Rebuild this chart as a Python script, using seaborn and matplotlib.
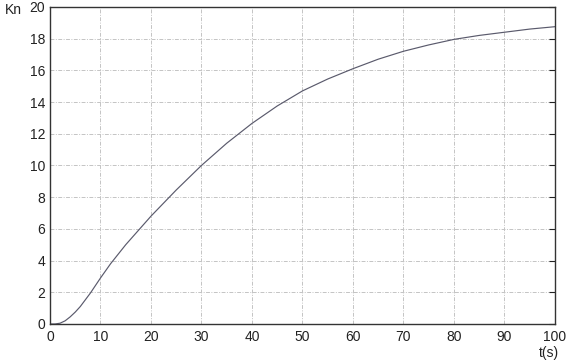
import matplotlib
matplotlib.use("Agg")
import matplotlib.pyplot as plt
import seaborn as sns
import pandas as pd

# values
t = [0, 1, 2, 3, 4, 5, 6, 8, 10, 12, 15, 20, 25, 30, 35, 40, 45, 50,
     55, 60, 65, 70, 75, 80, 85, 90, 95, 100]
kn = [0, 0, 0.05, 0.2, 0.45, 0.75, 1.1, 1.95, 2.9, 3.8, 5.0, 6.8, 8.45, 10.0,
      11.4, 12.65, 13.75, 14.7, 15.45, 16.1, 16.7, 17.2, 17.6, 17.95, 18.2,
      18.4, 18.6, 18.75]
x_ticks = [0, 10, 20, 30, 40, 50, 60, 70, 80, 90, 100]
y_ticks = [0, 2, 4, 6, 8, 10, 12, 14, 16, 18, 20]

df = pd.DataFrame({"t": t, "Kn": kn})

sns.set_style("white")
plt.rcParams['font.family'] = ['Liberation Sans', 'DejaVu Sans']

fig = plt.figure(figsize=(5.68, 3.62), dpi=100)
ax = fig.add_axes([0.088, 0.105, 0.889, 0.876])

sns.lineplot(x="t", y="Kn", data=df, ax=ax, color="#5a5a6c", linewidth=0.85)

ax.set_xlim(0, 100)
ax.set_ylim(0, 20)
ax.set_xticks(x_ticks)
ax.set_yticks(y_ticks)
ax.grid(True, color="#c4c4c4", linestyle=(0, (4, 1.5, 1, 1.5)), linewidth=0.7)
ax.tick_params(direction="in", length=4, width=0.8, labelsize=10,
               right=True, top=False, colors="#222222")
ax.tick_params(axis="x", pad=4)
for s in ax.spines.values():
    s.set_color("#333333")
    s.set_linewidth(1.0)

ax.set_xlabel("")
ax.set_ylabel("")
fig.text(0.009, 0.972, "Kn", fontsize=10, color="#222222", va="center")
fig.text(0.966, 0.026, "t(s)", fontsize=10, color="#222222", ha="center", va="center")

fig.savefig("out.png", dpi=100)
